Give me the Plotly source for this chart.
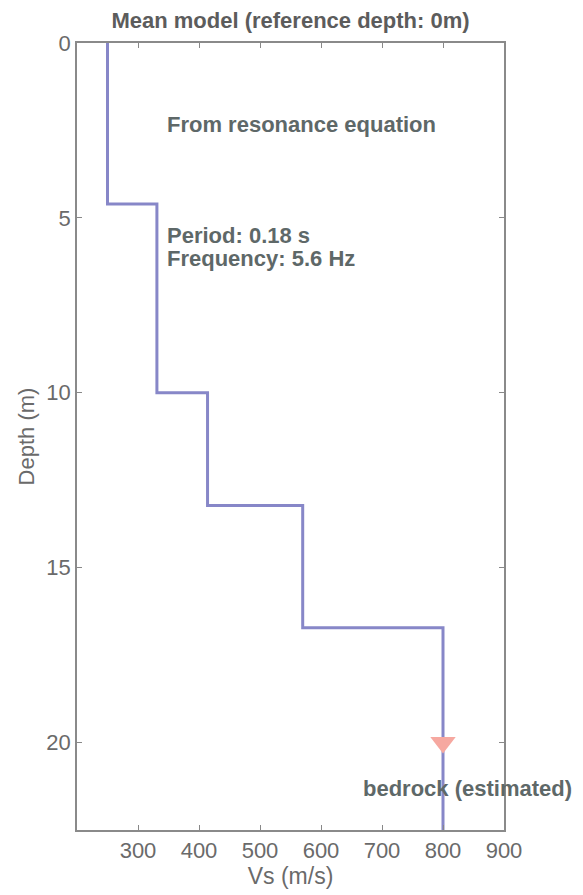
import plotly.graph_objects as go

# Layered shear-wave velocity model (mean model)
layer_top_depth = [0.0, 4.6, 10.0, 13.22, 16.72]   # m
layer_vs = [250, 331, 414, 570, 800]               # m/s
profile_bottom = 22.5                               # m
bedrock_depth = 20.0
bedrock_vs = 800

x_ticks = [300, 400, 500, 600, 700, 800, 900]
y_ticks = [0, 5, 10, 15, 20]

# Build the staircase profile from the layer table
xs, ys = [], []
bottoms = layer_top_depth[1:] + [profile_bottom]
for top, bot, vs in zip(layer_top_depth, bottoms, layer_vs):
    xs += [vs, vs]
    ys += [top, bot]

grey = "#6a6a6a"
note = "#5e6868"
font_family = "Liberation Sans, Arial, sans-serif"

fig = go.Figure()
fig.add_trace(go.Scatter(
    x=xs, y=ys, mode="lines",
    line=dict(color="#8787c8", width=3),
    hoverinfo="skip", showlegend=False,
))
fig.add_trace(go.Scatter(
    x=[bedrock_vs], y=[bedrock_depth], mode="markers",
    marker=dict(symbol="triangle-down", size=22, color="#f6a8a0",
                line=dict(width=0)),
    showlegend=False,
))

annotations = [
    dict(text="From resonance equation", x=345, y=2.33),
    dict(text="Period: 0.18 s", x=345, y=5.5),
    dict(text="Frequency: 5.6 Hz", x=345, y=6.15),
    dict(text="bedrock (estimated)", x=666, y=21.3),
]
for a in annotations:
    fig.add_annotation(
        text="<b>%s</b>" % a["text"], x=a["x"], y=a["y"],
        xref="x", yref="y", xanchor="left", yanchor="middle",
        showarrow=False, font=dict(family=font_family, size=22, color=note),
    )

fig.update_layout(
    width=583, height=895,
    margin=dict(l=77, r=79, t=43, b=65),
    paper_bgcolor="white", plot_bgcolor="white",
    font=dict(family=font_family, color=grey),
    title=dict(
        text="<b>Mean model (reference depth: 0m)</b>",
        x=0.5, xref="paper",
        y=1 - 20 / 895, yref="container", yanchor="middle", xanchor="center",
        font=dict(family=font_family, size=22, color="#5c5c5c"),
    ),
)
fig.update_xaxes(
    range=[200, 900], tickvals=x_ticks, ticks="inside", ticklen=5,
    tickcolor="#888", showline=True, linecolor="#8a8a8a", linewidth=1.5,
    mirror="ticks", showgrid=False, zeroline=False,
    tickfont=dict(size=22, color=grey),
    title=dict(text="Vs (m/s)", font=dict(size=23, color=grey), standoff=2),
)
fig.update_yaxes(
    range=[profile_bottom, 0], tickvals=y_ticks, ticks="inside", ticklen=5,
    tickcolor="#888", showline=True, linecolor="#8a8a8a", linewidth=1.5,
    mirror="ticks", showgrid=False, zeroline=False,
    tickfont=dict(size=22, color=grey),
    title=dict(text="Depth (m)", font=dict(size=22, color=grey), standoff=6),
)

fig.write_html("out.html")
